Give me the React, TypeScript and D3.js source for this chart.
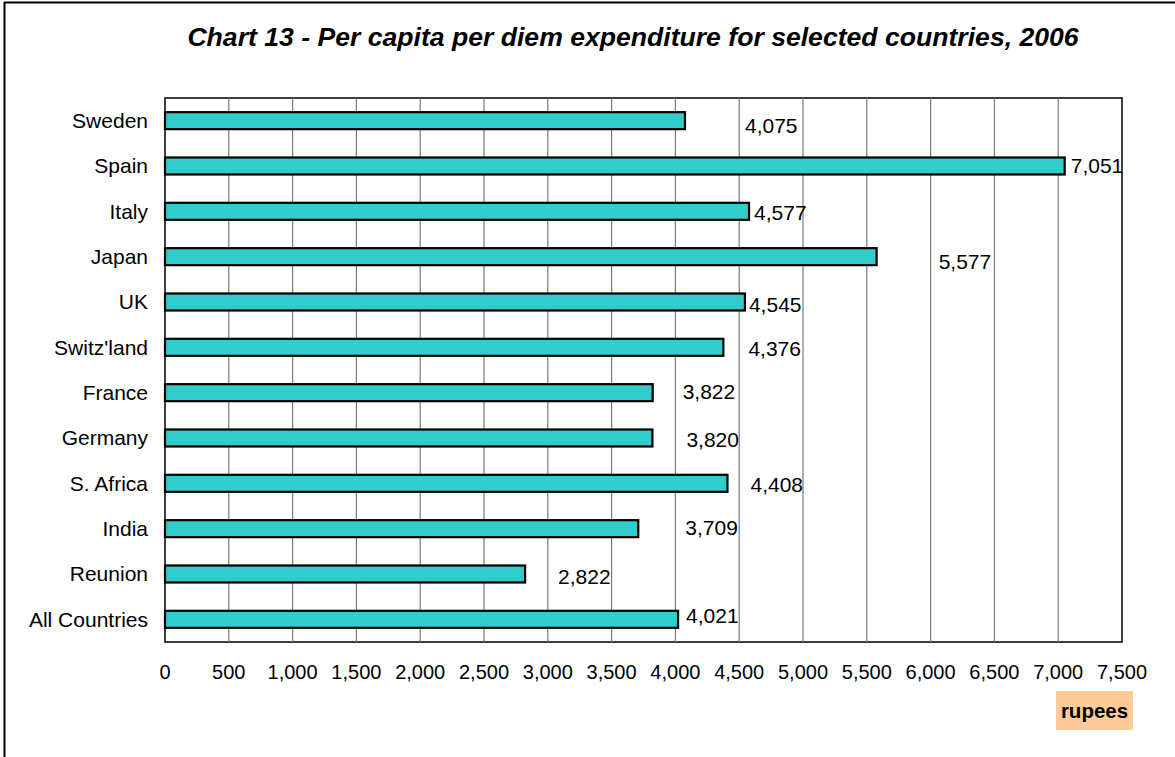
import React from "react";
import * as d3 from "d3";

const categories = ["Sweden", "Spain", "Italy", "Japan", "UK", "Switz'land", "France", "Germany", "S. Africa", "India", "Reunion", "All Countries"];
const values = [4075, 7051, 4577, 5577, 4545, 4376, 3822, 3820, 4408, 3709, 2822, 4021];
const xTicks = [0, 500, 1000, 1500, 2000, 2500, 3000, 3500, 4000, 4500, 5000, 5500, 6000, 6500, 7000, 7500];
const titleText = "Chart 13 - Per capita per diem expenditure for selected countries, 2006";
const unitText = "rupees";

// label placement offsets (px) relative to bar end / bar center
const labelDx = [60, 6, 5, 62, 4, 25, 30, 34, 23, 47, 33, 8];
const labelDy = [5, 0, 1, 5, 3, 1, -1, 2, 1, -1, 3, -4];

const W = 1175, H = 757;
const M = { left: 165, right: 1122, top: 98, bottom: 642 };
const FONT = "'Liberation Sans', Arial, sans-serif";

export default function App() {
  const x = d3.scaleLinear().domain([0, 7500]).range([M.left, M.right]);
  const y = d3.scaleBand<string>().domain(categories).range([M.top, M.bottom]).paddingInner(0.625).paddingOuter(0.3125);
  const fmt = d3.format(",");
  const bw = y.bandwidth();
  return (
    <svg width={W} height={H} style={{ position: "absolute", left: 0, top: 0 }} fontFamily={FONT}>
      <rect x={0} y={0} width={W} height={H} fill="#fff" />
      <line x1={4.5} y1={2} x2={4.5} y2={H} stroke="#000" strokeWidth={2} />
      <line x1={4} y1={2.5} x2={W} y2={2.5} stroke="#000" strokeWidth={2} />
      <text x={633} y={46} textAnchor="middle" fontSize={26.6} fontWeight="bold" fontStyle="italic">{titleText}</text>
      <rect x={M.left} y={M.top} width={M.right - M.left} height={M.bottom - M.top} fill="#fff" stroke="#000" strokeWidth={1.5} />
      {xTicks.slice(1, -1).map((t) => (
        <line key={t} x1={x(t)} x2={x(t)} y1={M.top} y2={M.bottom} stroke="#7a7a7a" strokeWidth={1.2} />
      ))}
      {categories.map((c, i) => (
        <g key={c}>
          <rect x={x(0)} y={y(c)!} width={x(values[i]) - x(0)} height={bw} fill="#33CCCC" stroke="#000" strokeWidth={2.2} />
          <text x={M.left - 17} y={y(c)! + bw / 2} dy="0.35em" textAnchor="end" fontSize={21}>{c}</text>
          <text x={x(values[i]) + labelDx[i]} y={y(c)! + bw / 2 + labelDy[i]} dy="0.35em" fontSize={21}>{fmt(values[i])}</text>
        </g>
      ))}
      {xTicks.map((t) => (
        <text key={t} x={x(t)} y={672} dy="0.35em" textAnchor="middle" fontSize={20}>{fmt(t)}</text>
      ))}
      <rect x={1056} y={691} width={77} height={39} fill="#FFCC99" />
      <text x={1094.5} y={711} dy="0.35em" textAnchor="middle" fontSize={20.5} fontWeight="bold">{unitText}</text>
    </svg>
  );
}
